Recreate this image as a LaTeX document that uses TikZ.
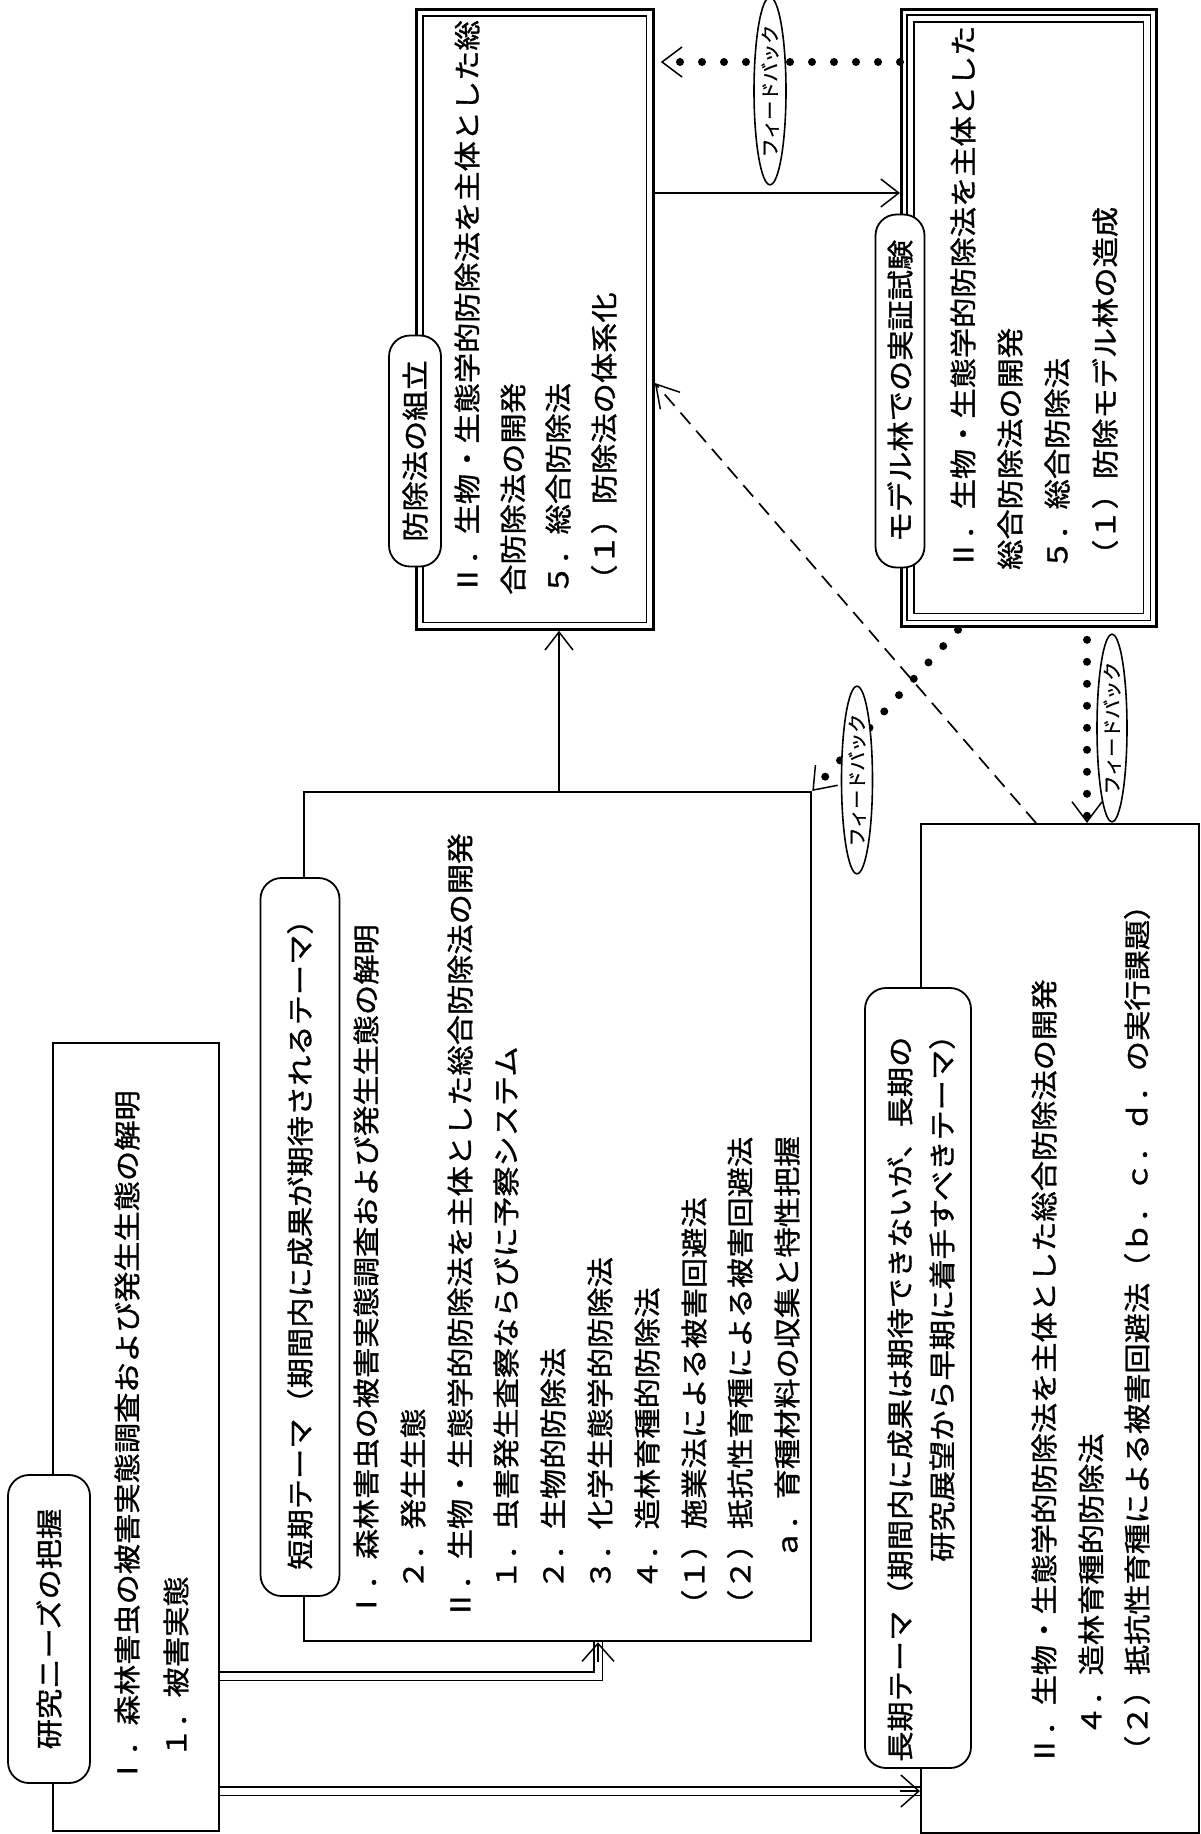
\documentclass[tikz,border=0pt]{standalone}
\usepackage{fontspec}
\newfontfamily\jp[FakeStretch=1.12,FakeBold=1.2]{Noto Sans CJK JP}
\newfontfamily\jps[FakeBold=0.8]{Noto Sans CJK JP}
\usetikzlibrary{arrows.meta,shapes.geometric,calc}
\begin{document}
\begin{tikzpicture}[x=1pt,y=-1pt,
  box/.style={draw, line width=2.3pt, inner sep=0pt, anchor=north west},
  lab/.style={draw, line width=1.8pt, fill=white, rounded corners=21pt, rotate=90, inner sep=0pt, font=\jp\fontsize{27}{30}\selectfont},
  txt/.style={rotate=90, anchor=west, inner sep=0pt, font=\jp\fontsize{27}{30}\selectfont},
  fb/.style={draw, ellipse, line width=1.6pt, fill=white, rotate=90, inner sep=0pt, font=\jps\fontsize{19}{20}\selectfont},
  dotarr/.style={line width=8pt, line cap=round, dash pattern=on 0pt off 22pt, -{Straight Barb[length=20pt 0 0, width=30pt 0 0, line width=1.5pt]}},
  thinarr/.style={line width=1.2pt, -{Straight Barb[length=18pt 0 0, width=28pt 0 0, line width=1.5pt]}},
  dasharr/.style={line width=1.7pt, dash pattern=on 15pt off 9pt, -{Straight Barb[length=22pt 0 0, width=26pt 0 0, line width=1.5pt]}},
  dbl/.style={draw=black, line width=1.2pt, double=white, double distance=7pt},
  tiponly/.style={line width=1.4pt, -{Straight Barb[length=18pt 0 0, width=32pt 0 0, line width=1.5pt]}}
]
\fill[white] (0,0) rectangle (1200,1834);
\useasboundingbox (0,0) rectangle (1200,1834);

% boxes
\node[box, minimum width=166pt, minimum height=788pt] (b1) at (52,1042) {};
\node[box, minimum width=507pt, minimum height=849pt] (b2) at (303,791) {};
\node[box, minimum width=278pt, minimum height=1009pt] (b3) at (920,823) {};
\node[box, line width=2.8pt, minimum width=237pt, minimum height=620pt] (b4) at (415,8) {};
\node[box, line width=2.8pt, minimum width=255pt, minimum height=617pt] (b5) at (900,8) {};
\draw[line width=1.3pt] ([shift={(8,8)}]b4.north west) rectangle ([shift={(-8,-8)}]b4.south east);
\draw[line width=1.3pt] ([shift={(7,7)}]b5.north west) rectangle ([shift={(-7,-7)}]b5.south east);
\draw[line width=1.3pt] ([shift={(14,14)}]b5.north west) rectangle ([shift={(-14,-14)}]b5.south east);

% texts box1
\node[txt] (t11) at (127,1786) {Ⅰ．森林害虫の被害実態調査および発生生態の解明};
\node[txt] (t12) at (176,1758) {１．被害実態};
% texts box2
\node[txt] (t21) at (366,1620) {Ⅰ．森林害虫の被害実態調査および発生生態の解明};
\node[txt] (t22) at (413,1590) {２．発生生態};
\node[txt] (t23) at (460,1620) {Ⅱ．生物・生態学的防除法を主体とした総合防除法の開発};
\node[txt] (t24) at (506,1590) {１．虫害発生査察ならびに予察システム};
\node[txt] (t25) at (553,1590) {２．生物的防除法};
\node[txt] (t26) at (600,1590) {３．化学生態学的防除法};
\node[txt] (t27) at (647,1590) {４．造林育種的防除法};
\node[txt] (t28) at (694,1620) {（１）施業法による被害回避法};
\node[txt] (t29) at (740,1620) {（２）抵抗性育種による被害回避法};
\node[txt] (t2a) at (787,1560) {ａ．育種材料の収集と特性把握};
% texts box3
\node[txt] (t31) at (1044,1766) {Ⅱ．生物・生態学的防除法を主体とした総合防除法の開発};
\node[txt] (t32) at (1091,1736) {４．造林育種的防除法};
\node[txt] (t33) at (1137,1766) {（２）抵抗性育種による被害回避法（ｂ．ｃ．ｄ．の実行課題）};
% texts box4
\node[txt] (t41) at (467,595) {Ⅱ．生物・生態学的防除法を主体とした総};
\node[txt] (t42) at (513,595) {合防除法の開発};
\node[txt] (t43) at (558,595) {５．総合防除法};
\node[txt] (t44) at (604,595) {（１）防除法の体系化};
% texts box5
\node[txt] (t51) at (963,570) {Ⅱ．生物・生態学的防除法を主体とした};
\node[txt] (t52) at (1010,570) {総合防除法の開発};
\node[txt] (t53) at (1057,570) {５．総合防除法};
\node[txt] (t54) at (1105,570) {（１）防除モデル林の造成};

% connectors
\draw[thinarr] ([shift={(0,185)}]b4.north east) -- ([shift={(0,185)}]b5.north west);
\draw[thinarr] ([shift={(256,0)}]b2.north west) -- ([shift={(144,0)}]b4.south west);
\draw[dasharr] ([shift={(116,0)}]b3.north west) -- ([shift={(0,375)}]b4.north east);
\draw[dotarr] ([shift={(0,54)}]b5.north west) -- ([shift={(6,54)}]b4.north east);
\draw[dotarr] ([shift={(58,2)}]b5.south west) -- (b2.north east);
\draw[dotarr] ([shift={(187,12)}]b5.south west) -- ([shift={(167,0)}]b3.north west);

\draw[dbl] ([shift={(0,634)}]b1.north east) -| ([shift={(295,0)}]b2.south west);
\draw[tiponly] ([shift={(295,20)}]b2.south west) -- ([shift={(295,0)}]b2.south west);
\draw[dbl] ([shift={(0,749)}]b1.north east) -- ([shift={(0,968)}]b3.north west);
\draw[tiponly] ([shift={(-20,968)}]b3.north west) -- ([shift={(0,968)}]b3.north west);

% labels
\node[lab, minimum width=308pt, minimum height=82pt] (l1) at (49,1629) {研究ニーズの把握};
\node[lab, minimum width=718pt, minimum height=79pt] (l2) at (300,1237) {短期テーマ（期間内に成果が期待されるテーマ）};
\node[lab, minimum width=780pt, minimum height=106pt] (l3) at (918,1378) {};
\node[txt] (l3a) at (900,1762) {長期テーマ（期間内に成果は期待できないが、長期の};
\node[txt] (l3b) at (942,1562) {研究展望から早期に着手すべきテーマ）};
\node[lab, minimum width=231pt, minimum height=52pt] (l4) at (415,451) {防除法の組立};
\node[lab, minimum width=353pt, minimum height=49pt] (l5) at (900,391) {モデル林での実証試験};

% feedback ellipses
\node[fb, minimum width=146pt, minimum height=32pt] (e1) at (770,91) {フィードバック};
\node[fb, minimum width=158pt, minimum height=31pt] (e2) at (857,780) {フィードバック};
\node[fb, minimum width=156pt, minimum height=30pt] (e3) at (1112,728) {フィードバック};
\end{tikzpicture}
\end{document}
